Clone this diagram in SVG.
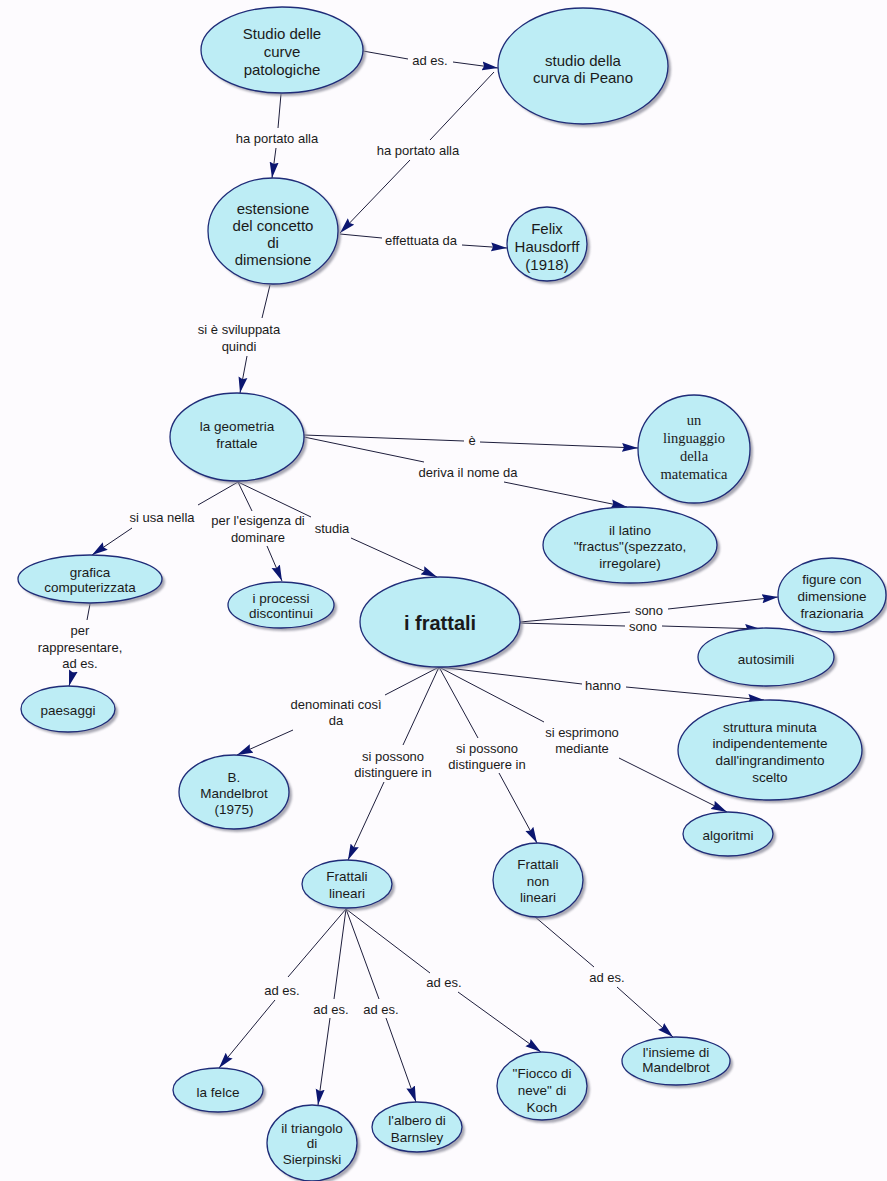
<svg xmlns="http://www.w3.org/2000/svg" width="887" height="1181" viewBox="0 0 887 1181">
  <style>
    .bg { fill: #fdfbfe; }
    .sh { fill: #8c8c9a; opacity: 0.75; filter: url(#soft); }
    .nd { fill: #bdedf5; stroke: #1f2c78; stroke-width: 1.3; }
    .t { font-family: "Liberation Sans", Arial, sans-serif; font-size: 13.5px; fill: #1a1a1a; text-anchor: middle; dominant-baseline: central; }
    .tl { font-size: 15px; }
    .ts { font-family: "Liberation Serif", "Times New Roman", serif; font-size: 14.5px; }
    .tb { font-size: 20px; font-weight: bold; }
    .lb { font-family: "Liberation Sans", Arial, sans-serif; font-size: 13px; fill: #1a1a1a; text-anchor: middle; dominant-baseline: central; }
    .ln { stroke: #1e1e3c; stroke-width: 1; fill: none; }
    .ar { marker-end: url(#arrow); }
  </style>
  <defs>
    <filter id="soft" x="-10%" y="-10%" width="120%" height="120%">
      <feGaussianBlur stdDeviation="1.2"/>
    </filter>
    <marker id="arrow" markerUnits="userSpaceOnUse" markerWidth="17" markerHeight="10" refX="16" refY="5" orient="auto">
      <path d="M0,0.5 L16,5 L0,9.5 L2,5 z" fill="#0b1670"/>
    </marker>
  </defs>

  <rect class="bg" x="0" y="0" width="887" height="1181"/>

  <!-- connectors: source → linking phrase → target -->
  <g id="connectors">
    <line class="ln" x1="363" y1="51" x2="408" y2="59"/>
    <line class="ln ar" x1="453" y1="62" x2="498" y2="68"/>

    <line class="ln" x1="281" y1="94" x2="278" y2="128"/>
    <line class="ln ar" x1="276" y1="148" x2="272" y2="178"/>

    <line class="ln" x1="494" y1="72" x2="430" y2="140"/>
    <line class="ln ar" x1="410" y1="160" x2="340" y2="233"/>

    <line class="ln" x1="340" y1="234" x2="382" y2="238"/>
    <line class="ln ar" x1="462" y1="245" x2="507" y2="248"/>

    <line class="ln" x1="270" y1="285" x2="262" y2="318"/>
    <line class="ln ar" x1="247" y1="356" x2="240" y2="393"/>

    <line class="ln" x1="304" y1="435" x2="464" y2="441"/>
    <line class="ln ar" x1="480" y1="442" x2="638" y2="448"/>

    <line class="ln" x1="304" y1="437" x2="424" y2="462"/>
    <line class="ln ar" x1="504" y1="482" x2="627" y2="507"/>

    <line class="ln" x1="238" y1="482" x2="198" y2="505"/>
    <line class="ln ar" x1="132" y1="528" x2="92" y2="555"/>

    <line class="ln" x1="238" y1="482" x2="252" y2="511"/>
    <line class="ln ar" x1="267" y1="546" x2="282" y2="581"/>

    <line class="ln" x1="238" y1="482" x2="311" y2="517"/>
    <line class="ln ar" x1="351" y1="538" x2="437" y2="577"/>

    <line class="ln" x1="90" y1="604" x2="87" y2="620"/>
    <line class="ln ar" x1="73" y1="672" x2="69" y2="686"/>

    <line class="ln" x1="520" y1="622" x2="630" y2="612"/>
    <line class="ln ar" x1="668" y1="609" x2="778" y2="597"/>

    <line class="ln" x1="520" y1="623" x2="625" y2="626"/>
    <line class="ln ar" x1="662" y1="626" x2="761" y2="629"/>

    <line class="ln" x1="439" y1="667" x2="582" y2="684"/>
    <line class="ln ar" x1="626" y1="687" x2="764" y2="700"/>

    <line class="ln" x1="439" y1="667" x2="385" y2="695"/>
    <line class="ln ar" x1="293" y1="730" x2="237" y2="755"/>

    <line class="ln" x1="439" y1="667" x2="403" y2="745"/>
    <line class="ln ar" x1="384" y1="782" x2="348" y2="860"/>

    <line class="ln" x1="439" y1="667" x2="478" y2="738"/>
    <line class="ln ar" x1="499" y1="773" x2="537" y2="843"/>

    <line class="ln" x1="439" y1="667" x2="544" y2="722"/>
    <line class="ln ar" x1="619" y1="758" x2="727" y2="812"/>

    <line class="ln" x1="346" y1="909" x2="288" y2="977"/>
    <line class="ln ar" x1="275" y1="1000" x2="219" y2="1068"/>

    <line class="ln" x1="346" y1="909" x2="334" y2="999"/>
    <line class="ln ar" x1="330" y1="1018" x2="318" y2="1105"/>

    <line class="ln" x1="346" y1="909" x2="379" y2="999"/>
    <line class="ln ar" x1="386" y1="1018" x2="416" y2="1102"/>

    <line class="ln" x1="346" y1="909" x2="430" y2="973"/>
    <line class="ln ar" x1="458" y1="992" x2="541" y2="1052"/>

    <line class="ln" x1="534" y1="916" x2="594" y2="967"/>
    <line class="ln ar" x1="617" y1="987" x2="673" y2="1037"/>
  </g>

  <!-- linking phrases -->
  <g id="linking-phrases">
    <text class="lb" x="430" y="60">ad es.</text>
    <text class="lb" x="277" y="138">ha portato alla</text>
    <text class="lb" x="418" y="150">ha portato alla</text>
    <text class="lb" x="421" y="240">effettuata da</text>
    <text class="lb" x="239" y="329">si è sviluppata</text>
    <text class="lb" x="239" y="346">quindi</text>
    <text class="lb" x="472" y="440">è</text>
    <text class="lb" x="468" y="472">deriva il nome da</text>
    <text class="lb" x="162" y="517">si usa nella</text>
    <text class="lb" x="258" y="520">per l'esigenza di</text>
    <text class="lb" x="258" y="537">dominare</text>
    <text class="lb" x="332" y="528">studia</text>
    <text class="lb" x="80" y="630">per</text>
    <text class="lb" x="80" y="647">rappresentare,</text>
    <text class="lb" x="80" y="663">ad es.</text>
    <text class="lb" x="649" y="610">sono</text>
    <text class="lb" x="643" y="626">sono</text>
    <text class="lb" x="603" y="685">hanno</text>
    <text class="lb" x="336" y="704">denominati così</text>
    <text class="lb" x="336" y="720">da</text>
    <text class="lb" x="393" y="756">si possono</text>
    <text class="lb" x="393" y="772">distinguere in</text>
    <text class="lb" x="487" y="748">si possono</text>
    <text class="lb" x="487" y="764">distinguere in</text>
    <text class="lb" x="582" y="732">si esprimono</text>
    <text class="lb" x="582" y="748">mediante</text>
    <text class="lb" x="282" y="990">ad es.</text>
    <text class="lb" x="331" y="1009">ad es.</text>
    <text class="lb" x="381" y="1009">ad es.</text>
    <text class="lb" x="444" y="982">ad es.</text>
    <text class="lb" x="607" y="977">ad es.</text>
  </g>

  <!-- concepts -->
  <g id="n-curve-patologiche">
    <ellipse class="sh" cx="285" cy="53" rx="81" ry="43"/>
    <ellipse class="nd" cx="282" cy="50" rx="81" ry="43"/>
    <text class="t tl" x="282" y="33">Studio delle</text>
    <text class="t tl" x="282" y="51">curve</text>
    <text class="t tl" x="282" y="69">patologiche</text>
  </g>
  <g id="n-peano">
    <ellipse class="sh" cx="586" cy="69" rx="85" ry="58"/>
    <ellipse class="nd" cx="583" cy="66" rx="85" ry="58"/>
    <text class="t tl" x="583" y="60">studio della</text>
    <text class="t tl" x="583" y="77">curva di Peano</text>
  </g>
  <g id="n-estensione">
    <ellipse class="sh" cx="276" cy="234" rx="65" ry="53"/>
    <ellipse class="nd" cx="273" cy="231" rx="65" ry="53"/>
    <text class="t tl" x="273" y="208">estensione</text>
    <text class="t tl" x="273" y="225">del concetto</text>
    <text class="t tl" x="273" y="242">di</text>
    <text class="t tl" x="273" y="259">dimensione</text>
  </g>
  <g id="n-hausdorff">
    <ellipse class="sh" cx="550" cy="247" rx="40" ry="37"/>
    <ellipse class="nd" cx="547" cy="244" rx="40" ry="37"/>
    <text class="t tl" x="547" y="228">Felix</text>
    <text class="t tl" x="547" y="246">Hausdorff</text>
    <text class="t tl" x="547" y="264">(1918)</text>
  </g>
  <g id="n-geometria">
    <ellipse class="sh" cx="240" cy="440" rx="67" ry="44"/>
    <ellipse class="nd" cx="237" cy="437" rx="67" ry="44"/>
    <text class="t" x="237" y="426">la geometria</text>
    <text class="t" x="237" y="443">frattale</text>
  </g>
  <g id="n-linguaggio">
    <ellipse class="sh" cx="697" cy="452" rx="56" ry="54"/>
    <ellipse class="nd" cx="694" cy="449" rx="56" ry="54"/>
    <text class="t ts" x="694" y="420">un</text>
    <text class="t ts" x="694" y="438">linguaggio</text>
    <text class="t ts" x="694" y="456">della</text>
    <text class="t ts" x="694" y="474">matematica</text>
  </g>
  <g id="n-latino">
    <ellipse class="sh" cx="633" cy="548" rx="87" ry="38"/>
    <ellipse class="nd" cx="630" cy="545" rx="87" ry="38"/>
    <text class="t" x="630" y="530">il latino</text>
    <text class="t" x="630" y="546">"fractus"(spezzato,</text>
    <text class="t" x="630" y="563">irregolare)</text>
  </g>
  <g id="n-grafica">
    <ellipse class="sh" cx="93" cy="582" rx="72" ry="24"/>
    <ellipse class="nd" cx="90" cy="579" rx="72" ry="24"/>
    <text class="t" x="90" y="572">grafica</text>
    <text class="t" x="90" y="587">computerizzata</text>
  </g>
  <g id="n-processi">
    <ellipse class="sh" cx="284" cy="608" rx="53" ry="23"/>
    <ellipse class="nd" cx="281" cy="605" rx="53" ry="23"/>
    <text class="t" x="281" y="598">i processi</text>
    <text class="t" x="281" y="613">discontinui</text>
  </g>
  <g id="n-paesaggi">
    <ellipse class="sh" cx="71" cy="712" rx="47" ry="23"/>
    <ellipse class="nd" cx="68" cy="709" rx="47" ry="23"/>
    <text class="t" x="68" y="710">paesaggi</text>
  </g>
  <g id="n-frattali">
    <ellipse class="sh" cx="443" cy="625" rx="80" ry="45"/>
    <ellipse class="nd" cx="440" cy="622" rx="80" ry="45"/>
    <text class="t tb" x="440" y="623">i frattali</text>
  </g>
  <g id="n-figure">
    <ellipse class="sh" cx="835" cy="598" rx="54" ry="37"/>
    <ellipse class="nd" cx="832" cy="595" rx="54" ry="37"/>
    <text class="t" x="832" y="579">figure con</text>
    <text class="t" x="832" y="596">dimensione</text>
    <text class="t" x="832" y="613">frazionaria</text>
  </g>
  <g id="n-autosimili">
    <ellipse class="sh" cx="769" cy="660" rx="68" ry="29"/>
    <ellipse class="nd" cx="766" cy="657" rx="68" ry="29"/>
    <text class="t" x="766" y="659">autosimili</text>
  </g>
  <g id="n-struttura">
    <ellipse class="sh" cx="773" cy="753" rx="92" ry="50"/>
    <ellipse class="nd" cx="770" cy="750" rx="92" ry="50"/>
    <text class="t" x="770" y="727">struttura minuta</text>
    <text class="t" x="770" y="743">indipendentemente</text>
    <text class="t" x="770" y="760">dall'ingrandimento</text>
    <text class="t" x="770" y="777">scelto</text>
  </g>
  <g id="n-mandelbrot">
    <ellipse class="sh" cx="237" cy="795" rx="55" ry="37"/>
    <ellipse class="nd" cx="234" cy="792" rx="55" ry="37"/>
    <text class="t" x="234" y="777">B.</text>
    <text class="t" x="234" y="793">Mandelbrot</text>
    <text class="t" x="234" y="809">(1975)</text>
  </g>
  <g id="n-algoritmi">
    <ellipse class="sh" cx="731" cy="837" rx="45" ry="22"/>
    <ellipse class="nd" cx="728" cy="834" rx="45" ry="22"/>
    <text class="t" x="728" y="835">algoritmi</text>
  </g>
  <g id="n-lineari">
    <ellipse class="sh" cx="350" cy="887" rx="45" ry="24"/>
    <ellipse class="nd" cx="347" cy="884" rx="45" ry="24"/>
    <text class="t" x="347" y="876">Frattali</text>
    <text class="t" x="347" y="893">lineari</text>
  </g>
  <g id="n-non-lineari">
    <ellipse class="sh" cx="541" cy="883" rx="45" ry="37"/>
    <ellipse class="nd" cx="538" cy="880" rx="45" ry="37"/>
    <text class="t" x="538" y="864">Frattali</text>
    <text class="t" x="538" y="881">non</text>
    <text class="t" x="538" y="897">lineari</text>
  </g>
  <g id="n-felce">
    <ellipse class="sh" cx="221" cy="1093" rx="45" ry="22"/>
    <ellipse class="nd" cx="218" cy="1090" rx="45" ry="22"/>
    <text class="t" x="218" y="1092">la felce</text>
  </g>
  <g id="n-sierpinski">
    <ellipse class="sh" cx="315" cy="1146" rx="45" ry="38"/>
    <ellipse class="nd" cx="312" cy="1143" rx="45" ry="38"/>
    <text class="t" x="312" y="1128">il triangolo</text>
    <text class="t" x="312" y="1143">di</text>
    <text class="t" x="312" y="1159">Sierpinski</text>
  </g>
  <g id="n-barnsley">
    <ellipse class="sh" cx="420" cy="1130" rx="45" ry="25"/>
    <ellipse class="nd" cx="417" cy="1127" rx="45" ry="25"/>
    <text class="t" x="417" y="1120">l'albero di</text>
    <text class="t" x="417" y="1137">Barnsley</text>
  </g>
  <g id="n-koch">
    <ellipse class="sh" cx="545" cy="1089" rx="45" ry="34"/>
    <ellipse class="nd" cx="542" cy="1086" rx="45" ry="34"/>
    <text class="t" x="542" y="1073">"Fiocco di</text>
    <text class="t" x="542" y="1090">neve" di</text>
    <text class="t" x="542" y="1107">Koch</text>
  </g>
  <g id="n-insieme">
    <ellipse class="sh" cx="679" cy="1064" rx="54" ry="24"/>
    <ellipse class="nd" cx="676" cy="1061" rx="54" ry="24"/>
    <text class="t" x="676" y="1052">l'insieme di</text>
    <text class="t" x="676" y="1067">Mandelbrot</text>
  </g>
</svg>
